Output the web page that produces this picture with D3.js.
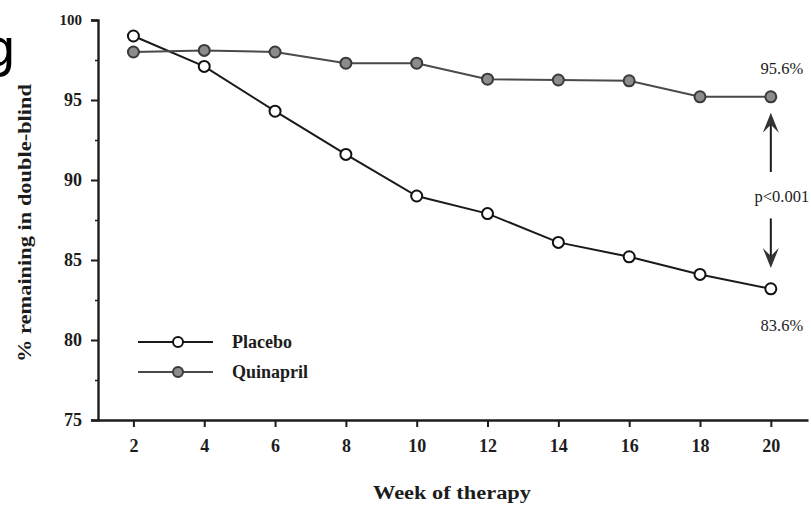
<!DOCTYPE html>
<html>
<head>
<meta charset="utf-8">
<script src="https://cdn.jsdelivr.net/npm/d3@7"></script>
<style>
  html, body { margin: 0; padding: 0; background: #fff; }
  svg { display: block; }
</style>
</head>
<body>
<div id="container"></div>
<script>
const width = 811, height = 505;

// Data
const weeks = [2, 4, 6, 8, 10, 12, 14, 16, 18, 20];
const placebo = [99.0, 97.1, 94.3, 91.6, 89.0, 87.9, 86.1, 85.2, 84.1, 83.2];
const quinapril = [98.0, 98.1, 98.0, 97.3, 97.3, 96.3, 96.25, 96.2, 95.2, 95.2];
const yTicks = [75, 80, 85, 90, 95, 100];
const yMinor = [77.5, 82.5, 87.5, 92.5, 97.5];
const seriesNames = ["Placebo", "Quinapril"];
const endLabels = ["95.6%", "p<0.001", "83.6%"];

const ink = "#1c1c1c";
const serif = "'Liberation Serif', 'Times New Roman', serif";

const svg = d3.select("#container").append("svg")
  .attr("width", width).attr("height", height);

// Scales
const x = d3.scaleLinear().domain([1, 21.05]).range([98, 808]);
const y = d3.scaleLinear().domain([75, 100]).range([420, 20]);

// Stray glyph cropped at the left edge of the scan
svg.append("text")
  .attr("x", -17).attr("y", 66)
  .attr("fill", "#000")
  .style("font-family", "'DejaVu Sans', sans-serif")
  .style("font-size", "52px")
  .text("g");

// Y axis
const yAxis = svg.append("g")
  .attr("transform", `translate(${x(1)},0)`)
  .call(d3.axisLeft(y).tickValues(yTicks).tickSize(7).tickPadding(9).tickFormat(d3.format("d")));
yAxis.select(".domain").attr("stroke", ink).attr("stroke-width", 2.4);
yAxis.selectAll(".tick line").attr("stroke", ink).attr("stroke-width", 2);
yAxis.selectAll("text")
  .attr("fill", ink)
  .style("font-family", serif)
  .style("font-weight", "bold")
  .style("font-size", (d) => (d === 100 ? "15px" : "18px"));

svg.append("g")
  .attr("transform", `translate(${x(1)},0)`)
  .call(d3.axisLeft(y).tickValues(yMinor).tickSize(3).tickFormat(""))
  .call((g) => g.select(".domain").remove())
  .selectAll("line").attr("stroke", ink).attr("stroke-width", 1.5);

// X axis
const xAxis = svg.append("g")
  .attr("transform", `translate(0,${y(75)})`)
  .call(d3.axisBottom(x).tickValues(weeks).tickSize(7).tickPadding(12).tickSizeOuter(0));
xAxis.select(".domain").attr("stroke", ink).attr("stroke-width", 2.6);
xAxis.selectAll(".tick line").attr("stroke", ink).attr("stroke-width", 2);
xAxis.selectAll("text")
  .attr("fill", ink)
  .style("font-family", serif)
  .style("font-weight", "bold")
  .style("font-size", "18px");

// Axis titles
svg.append("text")
  .attr("transform", `translate(31,${(83 + 363) / 2}) rotate(-90)`)
  .attr("text-anchor", "middle")
  .attr("fill", ink)
  .attr("textLength", 278).attr("lengthAdjust", "spacingAndGlyphs")
  .style("font-family", serif)
  .style("font-weight", "bold")
  .style("font-size", "18px")
  .text("% remaining in double-blind");

svg.append("text")
  .attr("x", 452).attr("y", 499)
  .attr("text-anchor", "middle")
  .attr("fill", ink)
  .attr("textLength", 158).attr("lengthAdjust", "spacingAndGlyphs")
  .style("font-family", serif)
  .style("font-weight", "bold")
  .style("font-size", "18px")
  .text("Week of therapy");

// Series
const series = [
  { name: seriesNames[0], values: placebo, line: "#1a1a1a", fill: "#fff", stroke: "#111" },
  { name: seriesNames[1], values: quinapril, line: "#4a4a4a", fill: "#8c8c8c", stroke: "#3a3a3a" },
];

const line = d3.line().x((d) => x(d[0])).y((d) => y(d[1]));

series.forEach((s) => {
  const pts = weeks.map((w, i) => [w, s.values[i]]);
  svg.append("path")
    .datum(pts)
    .attr("fill", "none")
    .attr("stroke", s.line)
    .attr("stroke-width", 2)
    .attr("d", line);
  svg.selectAll(null).data(pts).join("circle")
    .attr("cx", (d) => x(d[0]))
    .attr("cy", (d) => y(d[1]))
    .attr("r", 5.5)
    .attr("fill", s.fill)
    .attr("stroke", s.stroke)
    .attr("stroke-width", 2);
});

// Legend
series.forEach((s, i) => {
  const ly = 342 + i * 30;
  svg.append("line")
    .attr("x1", 138).attr("x2", 213).attr("y1", ly).attr("y2", ly)
    .attr("stroke", s.line).attr("stroke-width", 2);
  svg.append("circle")
    .attr("cx", 178).attr("cy", ly).attr("r", 5)
    .attr("fill", s.fill).attr("stroke", s.stroke).attr("stroke-width", 2);
  svg.append("text")
    .attr("x", 232).attr("y", ly)
    .attr("dominant-baseline", "central")
    .attr("fill", ink)
    .style("font-family", serif)
    .style("font-weight", "bold")
    .style("font-size", "18px")
    .text(s.name);
});

// Annotations at week 20
const ax = x(20);
const arrowHead = (tipY, dir) => {
  // dir = -1 points up, +1 points down
  const L = 20, W = 8, notch = 8;
  return `M${ax},${tipY} L${ax - W},${tipY - dir * L} L${ax},${tipY - dir * (L - notch)} L${ax + W},${tipY - dir * L} Z`;
};
const arrows = [
  { from: 90.5, to: 94.2, dir: -1 },
  { from: 87.6, to: 84.5, dir: 1 },
];
arrows.forEach((a) => {
  svg.append("line")
    .attr("x1", ax).attr("x2", ax)
    .attr("y1", y(a.from)).attr("y2", y(a.to) - a.dir * 10)
    .attr("stroke", ink).attr("stroke-width", 2);
  svg.append("path")
    .attr("d", arrowHead(y(a.to), a.dir))
    .attr("fill", "#333");
});

const labelVals = [97.0, 88.94, 80.9];
endLabels.forEach((t, i) => {
  svg.append("text")
    .attr("x", ax + 11).attr("y", y(labelVals[i]))
    .attr("text-anchor", "middle")
    .attr("dominant-baseline", "central")
    .attr("fill", ink)
    .style("font-family", serif)
    .style("font-size", "16.5px")
    .text(t);
});
</script>
</body>
</html>
